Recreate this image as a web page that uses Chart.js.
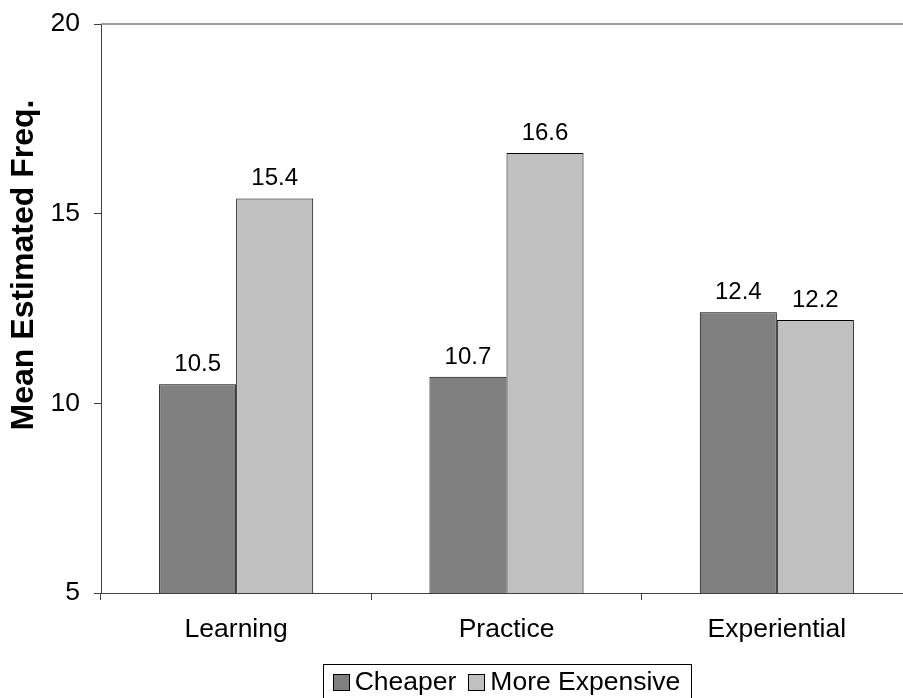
<!DOCTYPE html>
<html>
<head>
<meta charset="utf-8">
<script src="https://cdn.jsdelivr.net/npm/chart.js@4/dist/chart.umd.min.js"></script>
<style>
  html, body { margin: 0; padding: 0; background: #fff; overflow: hidden; }
  #wrap { width: 903px; height: 698px; overflow: hidden; }
  canvas { display: block; }
</style>
</head>
<body>
<div id="wrap"><canvas id="grafico" width="920" height="700"></canvas></div>
<script>
// dados do gráfico
const categories = ['Learning', 'Practice', 'Experiential'];
const cheaper = [10.5, 10.7, 12.4];
const moreExpensive = [15.4, 16.6, 12.2];
const yTicks = [5, 10, 15, 20];
const seriesNames = ['Cheaper', 'More Expensive'];
const yTitle = 'Mean Estimated Freq.';

const FONT = '"Liberation Sans", Arial, sans-serif';
Chart.defaults.font.family = FONT;
Chart.defaults.color = '#000';

// rótulos de valor acima das barras
const valueLabels = {
  id: 'valueLabels',
  afterDatasetsDraw(chart) {
    const ctx = chart.ctx;
    ctx.save();
    ctx.font = '24px ' + FONT;
    ctx.fillStyle = '#000';
    ctx.textAlign = 'center';
    ctx.textBaseline = 'alphabetic';
    chart.data.datasets.forEach((ds, i) => {
      chart.getDatasetMeta(i).data.forEach((bar, j) => {
        ctx.fillText(ds.data[j].toFixed(1), bar.x, bar.y - 13);
      });
    });
    ctx.restore();
  }
};

// borda superior, título do eixo y e legenda com moldura
const extras = {
  id: 'extras',
  afterDraw(chart) {
    const ctx = chart.ctx;
    const area = chart.chartArea;
    ctx.save();

    // linha superior da área do gráfico
    ctx.strokeStyle = '#808080';
    ctx.lineWidth = 1.5;
    ctx.beginPath();
    ctx.moveTo(area.left, area.top);
    ctx.lineTo(area.right, area.top);
    ctx.stroke();

    // título do eixo y
    ctx.save();
    ctx.translate(24, 265);
    ctx.rotate(-Math.PI / 2);
    ctx.font = 'bold 32px ' + FONT;
    ctx.textAlign = 'center';
    ctx.textBaseline = 'middle';
    ctx.fillText(yTitle, 0, 0);
    ctx.restore();

    // legenda centrada sob a área do gráfico
    ctx.font = '26.5px ' + FONT;
    const box = 16, gap = 6, pad = 10, itemGap = 12;
    const widths = seriesNames.map(n => ctx.measureText(n).width);
    const total = pad * 2 + widths.reduce((a, w) => a + box + gap + w, 0) + itemGap;
    const cx = (area.left + area.right) / 2, top = 664, h = 44;
    let x = cx - total / 2;
    ctx.strokeStyle = '#000';
    ctx.lineWidth = 1;
    ctx.strokeRect(Math.round(x) + 0.5, top + 0.5, Math.round(total), h);
    x += pad;
    ctx.textBaseline = 'middle';
    ctx.textAlign = 'left';
    const midY = 682;
    chart.data.datasets.forEach((ds, i) => {
      ctx.fillStyle = ds.backgroundColor;
      ctx.fillRect(Math.round(x) + 0.5, midY - box / 2 + 0.5, box, box);
      ctx.strokeRect(Math.round(x) + 0.5, midY - box / 2 + 0.5, box, box);
      x += box + gap;
      ctx.fillStyle = '#000';
      ctx.fillText(seriesNames[i], x, midY + 1);
      x += widths[i] + itemGap;
    });
    ctx.restore();
  }
};

new Chart(document.getElementById('grafico'), {
  type: 'bar',
  data: {
    labels: categories,
    datasets: [
      {
        label: seriesNames[0],
        data: cheaper,
        backgroundColor: '#808080',
        borderColor: '#000',
        borderWidth: 1,
        borderSkipped: false
      },
      {
        label: seriesNames[1],
        data: moreExpensive,
        backgroundColor: '#c0c0c0',
        borderColor: '#000',
        borderWidth: 1,
        borderSkipped: false
      }
    ]
  },
  options: {
    responsive: false,
    animation: false,
    layout: { padding: { top: 24, right: 8, bottom: 0, left: 0 } },
    datasets: {
      bar: { categoryPercentage: 0.57, barPercentage: 1 }
    },
    scales: {
      x: {
        grid: { drawOnChartArea: false, tickLength: 7, color: '#404040' },
        border: { color: '#404040', width: 1 },
        ticks: { font: { size: 26.5 }, padding: 14, color: '#000' },
        afterFit(scale) {
          scale.height = 107;
          scale.paddingLeft = 0;
          scale.paddingRight = 0;
        }
      },
      y: {
        min: 5,
        max: 20,
        afterBuildTicks(scale) { scale.ticks = yTicks.map(v => ({ value: v })); },
        grid: { drawOnChartArea: false, tickLength: 7, color: '#404040' },
        border: { color: '#404040', width: 1 },
        ticks: { font: { size: 26.5 }, padding: 14, color: '#000' },
        afterFit(scale) {
          scale.width = 101;
          scale.paddingTop = 0;
          scale.paddingBottom = 0;
        }
      }
    },
    plugins: {
      legend: { display: false },
      tooltip: { enabled: false }
    }
  },
  plugins: [valueLabels, extras]
});
</script>
</body>
</html>
